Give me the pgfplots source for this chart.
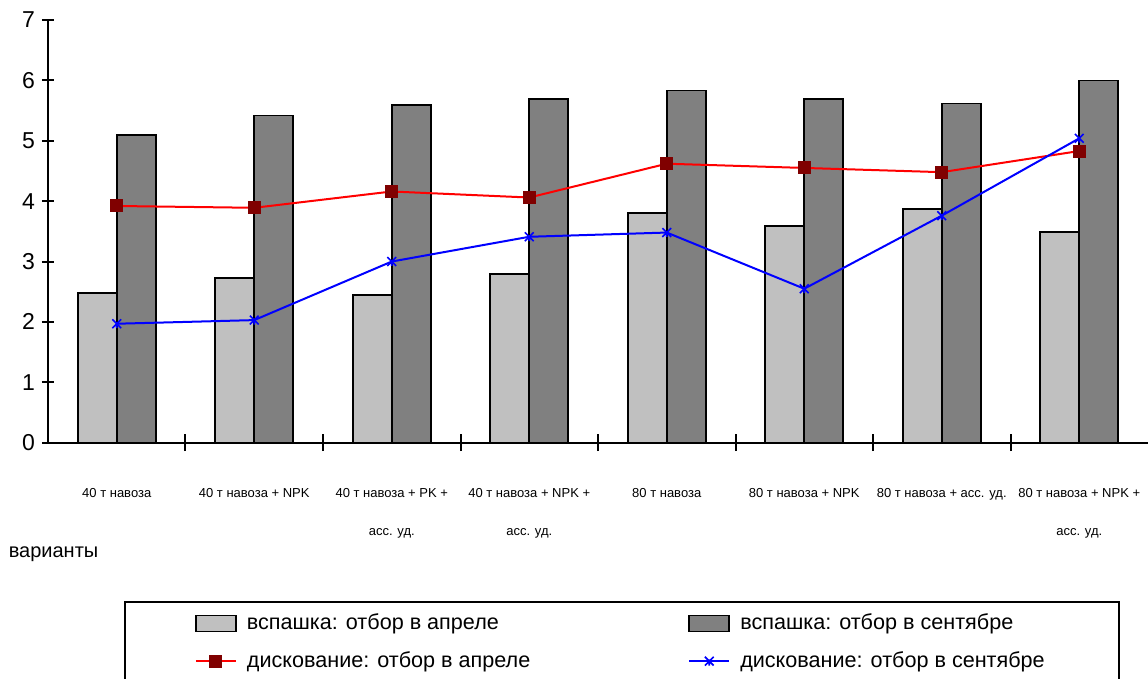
\documentclass[border=0pt]{standalone}
\usepackage{fontspec}
\setmainfont{Liberation Sans}
\usepackage{pgfplots}
\pgfplotsset{compat=1.18}

\definecolor{barlight}{HTML}{C0C0C0}
\definecolor{bardark}{HTML}{808080}
\definecolor{markred}{HTML}{800000}

% Star-shaped marker: a cross with a vertical stroke
\pgfdeclareplotmark{xstar}{%
  \pgfpathmoveto{\pgfqpoint{-\pgfplotmarksize}{-\pgfplotmarksize}}%
  \pgfpathlineto{\pgfqpoint{\pgfplotmarksize}{\pgfplotmarksize}}%
  \pgfpathmoveto{\pgfqpoint{-\pgfplotmarksize}{\pgfplotmarksize}}%
  \pgfpathlineto{\pgfqpoint{\pgfplotmarksize}{-\pgfplotmarksize}}%
  \pgfpathmoveto{\pgfqpoint{0pt}{-\pgfplotmarksize}}%
  \pgfpathlineto{\pgfqpoint{0pt}{0.4\pgfplotmarksize}}%
  \pgfusepathqstroke}

\begin{document}
\begin{tikzpicture}
\useasboundingbox (0,0) rectangle (574pt,339.5pt);
\begin{axis}[
  at={(24pt,118.15pt)}, anchor=south west,
  scale only axis, width=550pt, height=211.35pt,
  xmin=-0.5, xmax=7.5, ymin=0, ymax=7,
  axis lines=left,
  axis line style={-, line width=1pt},
  ytick={0,...,7},
  xtick={0,...,7},
  xticklabels={
    40 т навоза,
    40 т навоза + NPK,
    {40 т навоза + PK +\\асс. уд.},
    {40 т навоза + NPK +\\асс. уд.},
    80 т навоза,
    80 т навоза + NPK,
    80 т навоза + асс. уд.,
    {80 т навоза + NPK +\\асс. уд.}},
  major x tick style={draw=none},
  extra x ticks={0.5,1.5,...,6.5},
  extra x tick labels={},
  extra x tick style={
    major x tick style={draw=black, line width=1pt},
    major tick length=8.5pt, tick align=center},
  tick align=center,
  major tick length=6pt,
  tick style={black, line width=1pt},
  /pgf/number format/assume math mode=true,
  yticklabel style={font=\fontsize{11.5}{14}\selectfont, xshift=0pt},
  xticklabel style={font=\fontsize{6.5}{19}\selectfont, align=center,
    anchor=north, yshift=-13.5pt},
  ybar=0pt, bar width=19.5pt,
  clip=false,
  legend columns=2,
  legend cell align=left,
  legend style={
    at={(axis description cs:0.0691,-0.3745)}, anchor=north west,
    draw=black, line width=0.9pt,
    font=\fontsize{10.8}{13}\selectfont,
    inner xsep=35pt, inner ysep=4pt,
    /tikz/every odd column/.append style={column sep=3pt},
    /tikz/every even column/.append style={column sep=77pt},
    row sep=5.5pt},
]
% ploughing: April sampling
\addplot+[ybar, fill=barlight, draw=black, line width=0.8pt, mark=none,
  legend image code/.code={\draw[fill=barlight, draw=black, line width=0.8pt] (0pt,-4pt) rectangle (20pt,4pt);}]
  coordinates {(0,2.48) (1,2.73) (2,2.45) (3,2.79) (4,3.80) (5,3.59) (6,3.87) (7,3.49)};
\addlegendentry{вспашка: отбор в апреле}
% ploughing: September sampling
\addplot+[ybar, fill=bardark, draw=black, line width=0.8pt, mark=none,
  legend image code/.code={\draw[fill=bardark, draw=black, line width=0.8pt] (0pt,-4pt) rectangle (20pt,4pt);}]
  coordinates {(0,5.10) (1,5.42) (2,5.59) (3,5.69) (4,5.83) (5,5.69) (6,5.62) (7,6.00)};
\addlegendentry{вспашка: отбор в сентябре}
% disking: April sampling
\addplot[sharp plot, color=red, line width=1pt, mark=square*,
  mark size=2.75pt, mark options={fill=markred, draw=markred},
  legend image code/.code={\draw[red, line width=1pt] (0pt,0pt) -- (20pt,0pt);
    \fill[markred] (7.25pt,-2.75pt) rectangle (12.75pt,2.75pt);}]
  coordinates {(0,3.92) (1,3.89) (2,4.16) (3,4.06) (4,4.62) (5,4.55) (6,4.48) (7,4.83)};
\addlegendentry{дискование: отбор в апреле}
% disking: September sampling
\addplot[sharp plot, color=blue, line width=1pt, mark=xstar,
  mark size=2.2pt, mark options={draw=blue, line width=0.8pt},
  legend image code/.code={\draw[blue, line width=1pt] (0pt,0pt) -- (20pt,0pt);
    \draw[blue, line width=0.8pt] (7.8pt,-2.2pt) -- (12.2pt,2.2pt) (7.8pt,2.2pt) -- (12.2pt,-2.2pt) (10pt,-2.2pt) -- (10pt,0.9pt);}]
  coordinates {(0,1.97) (1,2.03) (2,3.00) (3,3.41) (4,3.48) (5,2.55) (6,3.76) (7,5.04)};
\addlegendentry{дискование: отбор в сентябре}
\end{axis}
\node[anchor=west, inner sep=0pt, font=\fontsize{10}{12}\selectfont] at (4.2pt,62.5pt) {варианты};
\end{tikzpicture}
\end{document}
